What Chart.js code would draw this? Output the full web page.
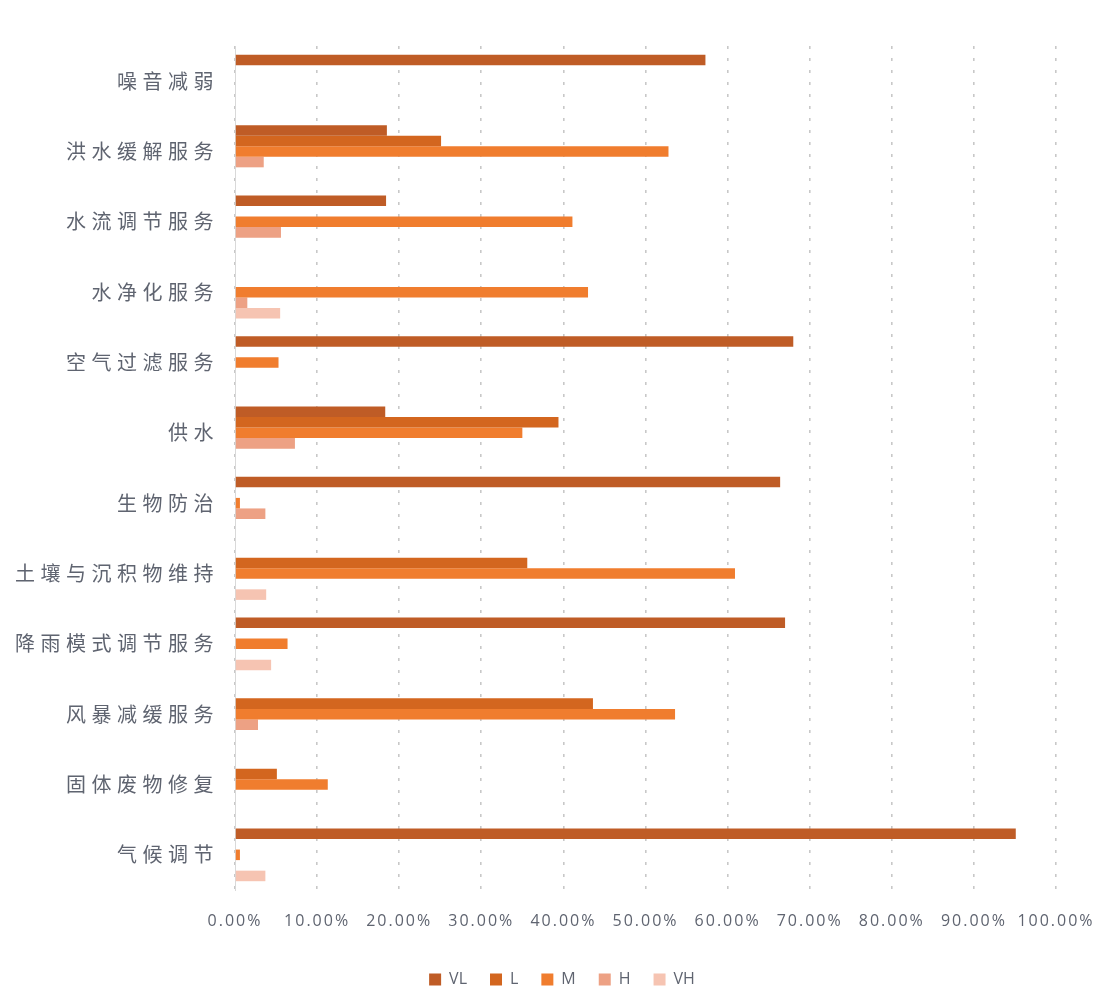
<!DOCTYPE html>
<html>
<head>
<meta charset="utf-8">
<script src="https://cdn.jsdelivr.net/npm/chart.js@4/dist/chart.umd.min.js"></script>
<style>
  html, body { margin: 0; padding: 0; background: #ffffff; }
  #wrap { position: relative; width: 1110px; height: 1008px; }
</style>
</head>
<body>
<div id="wrap"><canvas id="c"></canvas></div>
<script>
const categories = ['噪音减弱','洪水缓解服务','水流调节服务','水净化服务','空气过滤服务','供水','生物防治','土壤与沉积物维持','降雨模式调节服务','风暴减缓服务','固体废物修复','气候调节'];
const seriesNames = ['VL','L','M','H','VH'];
const valuesVL = [57.3, 18.5, 18.4, null, 68.0, 18.3, 66.4, null, 67.0, null, null, 95.1];
const valuesL  = [null, 25.1, null, null, null, 39.4, null, 35.6, null, 43.6, 5.1, null];
const valuesM  = [null, 52.8, 41.1, 43.0, 5.3, 35.0, 0.6, 60.9, 6.4, 53.6, 11.3, 0.6];
const valuesH  = [null, 3.5, 5.6, 1.5, null, 7.3, 3.7, null, null, 2.8, null, null];
const valuesVH = [null, null, null, 5.5, null, null, null, 3.8, 4.4, null, null, 3.7];
const xTicks = [0,10,20,30,40,50,60,70,80,90,100];

const colors = ['#bf5c26','#d3661f','#f07d2e','#eda184','#f6c4b2'];
const allValues = [valuesVL, valuesL, valuesM, valuesH, valuesVH];

function patchSpacing(s, spacing, unclip) {
  if (!s || s._spacedPatch) return;
  const orig = s.drawLabels;
  if (unclip) s._computeLabelArea = function() { return undefined; };
  s.drawLabels = function(area) {
    const ctx = this.ctx;
    ctx.save();
    ctx.letterSpacing = spacing;
    orig.call(this, area);
    ctx.restore();
  };
  s._spacedPatch = true;
}

const spacingPlugin = {
  id: 'labelSpacing',
  afterLayout(chart) {
    patchSpacing(chart.scales.y, '5.5px', true);
    patchSpacing(chart.scales.x, '2px', true);
  }
};

new Chart(document.getElementById('c'), {
  type: 'bar',
  data: {
    labels: categories,
    datasets: seriesNames.map((n, i) => ({
      label: n,
      data: allValues[i],
      backgroundColor: colors[i],
      borderWidth: 0,
      categoryPercentage: 0.75,
      barPercentage: 1.0
    }))
  },
  options: {
    indexAxis: 'y',
    responsive: true,
    maintainAspectRatio: false,
    animation: false,
    layout: { padding: { top: 46, right: 54, bottom: 10.5, left: 68 } },
    plugins: {
      tooltip: { enabled: false },
      legend: {
        position: 'bottom',
        labels: {
          boxWidth: 12, boxHeight: 12, padding: 23,
          color: '#5f6470',
          font: { family: 'Open Sans', size: 16 }
        }
      }
    },
    scales: {
      x: {
        min: 0, max: 100,
        afterBuildTicks(scale) { scale.ticks = xTicks.map(v => ({ value: v })); },
        afterFit(scale) { scale.height = 58.5; },
        ticks: {
          padding: 22,
          color: '#5f6470',
          font: { family: 'Open Sans', size: 16 },
          maxRotation: 0,
          autoSkip: false,
          callback: (v) => Number(v).toFixed(2) + '%'
        },
        grid: { color: '#c8c8c8', lineWidth: 1.6, drawTicks: false },
        border: { display: false, dash: [3, 9] }
      },
      y: {
        afterFit(scale) { scale.width = 167; },
        ticks: {
          padding: 16,
          color: '#5f6470',
          font: { family: 'Noto Sans CJK SC', size: 20 },
          autoSkip: false
        },
        grid: { display: false, drawTicks: false },
        border: { display: true, color: '#d9d9d9', width: 1 }
      }
    }
  },
  plugins: [spacingPlugin]
});
</script>
</body>
</html>
